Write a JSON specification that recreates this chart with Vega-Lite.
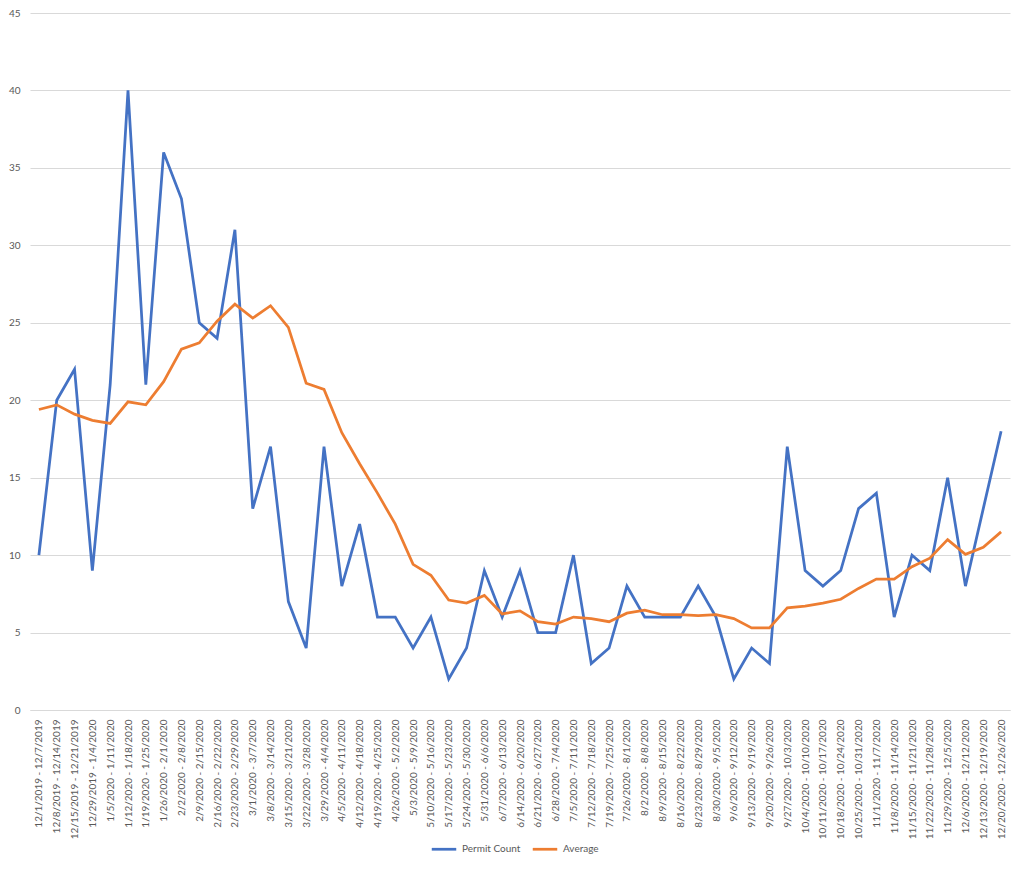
{
  "$schema": "https://vega.github.io/schema/vega-lite/v6.json",
  "autosize": {"type": "none"},
  "width": 980,
  "height": 697,
  "padding": {"left": 30, "top": 13, "right": 14, "bottom": 160},
  "background": "white",
  "config": {
    "font": "Lato",
    "view": {"stroke": null},
    "axis": {"labelColor": "#595959", "labelFont": "Lato", "labelFontSize": 10, "ticks": false, "gridColor": "#D9D9D9", "gridWidth": 1}
  },
  "data": {
    "values": [
      {"week": "12/1/2019 - 12/7/2019", "Permit Count": 10, "Average": 19.4},
      {"week": "12/8/2019 - 12/14/2019", "Permit Count": 20, "Average": 19.7},
      {"week": "12/15/2019 - 12/21/2019", "Permit Count": 22, "Average": 19.1},
      {"week": "12/29/2019 - 1/4/2020", "Permit Count": 9, "Average": 18.7},
      {"week": "1/5/2020 - 1/11/2020", "Permit Count": 21, "Average": 18.5},
      {"week": "1/12/2020 - 1/18/2020", "Permit Count": 40, "Average": 19.9},
      {"week": "1/19/2020 - 1/25/2020", "Permit Count": 21, "Average": 19.7},
      {"week": "1/26/2020 - 2/1/2020", "Permit Count": 36, "Average": 21.2},
      {"week": "2/2/2020 - 2/8/2020", "Permit Count": 33, "Average": 23.3},
      {"week": "2/9/2020 - 2/15/2020", "Permit Count": 25, "Average": 23.7},
      {"week": "2/16/2020 - 2/22/2020", "Permit Count": 24, "Average": 25.1},
      {"week": "2/23/2020 - 2/29/2020", "Permit Count": 31, "Average": 26.2},
      {"week": "3/1/2020 - 3/7/2020", "Permit Count": 13, "Average": 25.3},
      {"week": "3/8/2020 - 3/14/2020", "Permit Count": 17, "Average": 26.1},
      {"week": "3/15/2020 - 3/21/2020", "Permit Count": 7, "Average": 24.7},
      {"week": "3/22/2020 - 3/28/2020", "Permit Count": 4, "Average": 21.1},
      {"week": "3/29/2020 - 4/4/2020", "Permit Count": 17, "Average": 20.7},
      {"week": "4/5/2020 - 4/11/2020", "Permit Count": 8, "Average": 17.9},
      {"week": "4/12/2020 - 4/18/2020", "Permit Count": 12, "Average": 15.9},
      {"week": "4/19/2020 - 4/25/2020", "Permit Count": 6, "Average": 14.0},
      {"week": "4/26/2020 - 5/2/2020", "Permit Count": 6, "Average": 12.0},
      {"week": "5/3/2020 - 5/9/2020", "Permit Count": 4, "Average": 9.4},
      {"week": "5/10/2020 - 5/16/2020", "Permit Count": 6, "Average": 8.7},
      {"week": "5/17/2020 - 5/23/2020", "Permit Count": 2, "Average": 7.1},
      {"week": "5/24/2020 - 5/30/2020", "Permit Count": 4, "Average": 6.9},
      {"week": "5/31/2020 - 6/6/2020", "Permit Count": 9, "Average": 7.4},
      {"week": "6/7/2020 - 6/13/2020", "Permit Count": 6, "Average": 6.2},
      {"week": "6/14/2020 - 6/20/2020", "Permit Count": 9, "Average": 6.4},
      {"week": "6/21/2020 - 6/27/2020", "Permit Count": 5, "Average": 5.7},
      {"week": "6/28/2020 - 7/4/2020", "Permit Count": 5, "Average": 5.55},
      {"week": "7/5/2020 - 7/11/2020", "Permit Count": 10, "Average": 6.0},
      {"week": "7/12/2020 - 7/18/2020", "Permit Count": 3, "Average": 5.9},
      {"week": "7/19/2020 - 7/25/2020", "Permit Count": 4, "Average": 5.7},
      {"week": "7/26/2020 - 8/1/2020", "Permit Count": 8, "Average": 6.25},
      {"week": "8/2/2020 - 8/8/2020", "Permit Count": 6, "Average": 6.45},
      {"week": "8/9/2020 - 8/15/2020", "Permit Count": 6, "Average": 6.15},
      {"week": "8/16/2020 - 8/22/2020", "Permit Count": 6, "Average": 6.15},
      {"week": "8/23/2020 - 8/29/2020", "Permit Count": 8, "Average": 6.1},
      {"week": "8/30/2020 - 9/5/2020", "Permit Count": 6, "Average": 6.15},
      {"week": "9/6/2020 - 9/12/2020", "Permit Count": 2, "Average": 5.9},
      {"week": "9/13/2020 - 9/19/2020", "Permit Count": 4, "Average": 5.3},
      {"week": "9/20/2020 - 9/26/2020", "Permit Count": 3, "Average": 5.3},
      {"week": "9/27/2020 - 10/3/2020", "Permit Count": 17, "Average": 6.6},
      {"week": "10/4/2020 - 10/10/2020", "Permit Count": 9, "Average": 6.7},
      {"week": "10/11/2020 - 10/17/2020", "Permit Count": 8, "Average": 6.9},
      {"week": "10/18/2020 - 10/24/2020", "Permit Count": 9, "Average": 7.15},
      {"week": "10/25/2020 - 10/31/2020", "Permit Count": 13, "Average": 7.85},
      {"week": "11/1/2020 - 11/7/2020", "Permit Count": 14, "Average": 8.45},
      {"week": "11/8/2020 - 11/14/2020", "Permit Count": 6, "Average": 8.45},
      {"week": "11/15/2020 - 11/21/2020", "Permit Count": 10, "Average": 9.25},
      {"week": "11/22/2020 - 11/28/2020", "Permit Count": 9, "Average": 9.8},
      {"week": "11/29/2020 - 12/5/2020", "Permit Count": 15, "Average": 11.0},
      {"week": "12/6/2020 - 12/12/2020", "Permit Count": 8, "Average": 10.05},
      {"week": "12/13/2020 - 12/19/2020", "Permit Count": 13, "Average": 10.5},
      {"week": "12/20/2020 - 12/26/2020", "Permit Count": 18, "Average": 11.5}
    ]
  },
  "transform": [
    {"fold": ["Permit Count", "Average"], "as": ["series", "value"]}
  ],
  "mark": {"type": "line", "strokeWidth": 2.75, "strokeJoin": "miter", "strokeCap": "butt"},
  "encoding": {
    "x": {
      "field": "week",
      "type": "ordinal",
      "sort": null,
      "title": null,
      "scale": {"padding": 0.5},
      "axis": {"labelAngle": -90, "labelPadding": 9, "domainColor": "#D9D9D9", "grid": false, "labelOverlap": false, "labelLimit": 200}
    },
    "y": {
      "field": "value",
      "type": "quantitative",
      "title": null,
      "scale": {"domain": [0, 45], "nice": false},
      "axis": {"values": [0, 5, 10, 15, 20, 25, 30, 35, 40, 45], "domain": false, "labelPadding": 10}
    },
    "color": {
      "field": "series",
      "type": "nominal",
      "sort": ["Permit Count", "Average"],
      "scale": {"domain": ["Permit Count", "Average"], "range": ["#4472C4", "#ED7D31"]},
      "legend": {
        "title": null,
        "orient": "none",
        "legendX": 400,
        "legendY": 822,
        "direction": "horizontal",
        "symbolType": "stroke",
        "symbolSize": 600,
        "symbolStrokeWidth": 2.75,
        "labelFont": "Lato",
        "labelFontSize": 10,
        "labelColor": "#595959",
        "columnPadding": 6
      }
    }
  }
}
